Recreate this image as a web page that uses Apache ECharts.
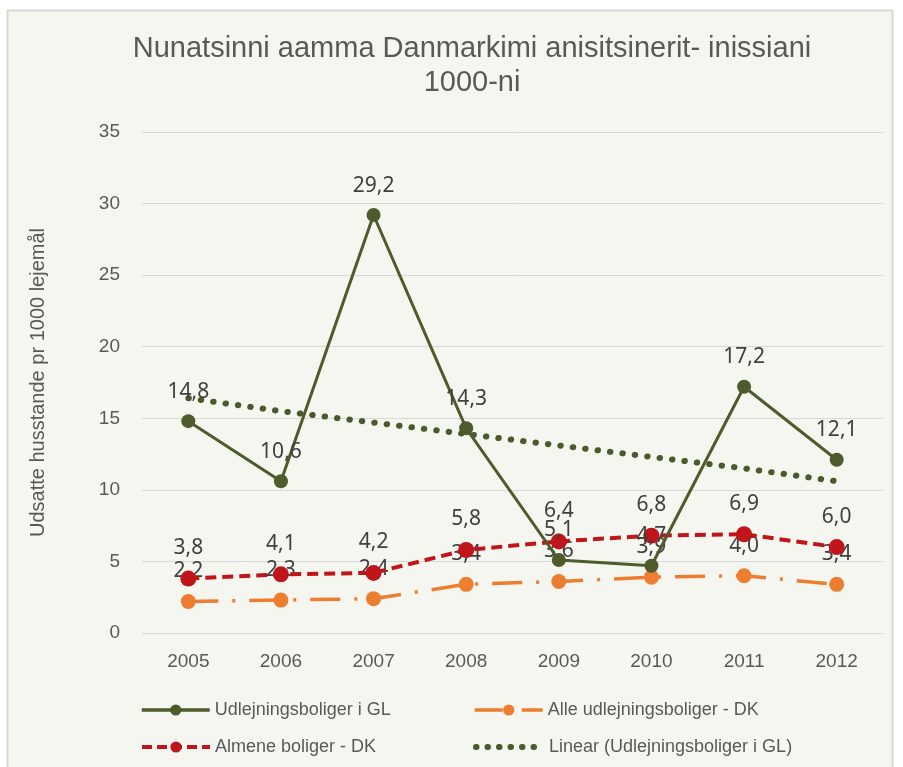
<!DOCTYPE html>
<html>
<head>
<meta charset="utf-8">
<script src="https://cdn.jsdelivr.net/npm/echarts@6/dist/echarts.min.js"></script>
<style>
  html, body { margin: 0; padding: 0; background: #fff; }
  #main { width: 903px; height: 767px; }
</style>
</head>
<body>
<div id="main"></div>
<script>
// data
var years = ['2005', '2006', '2007', '2008', '2009', '2010', '2011', '2012'];
var glValues = [14.8, 10.6, 29.2, 14.3, 5.1, 4.7, 17.2, 12.1];
var dkAllValues = [2.2, 2.3, 2.4, 3.4, 3.6, 3.9, 4.0, 3.4];
var dkAlmeneValues = [3.8, 4.1, 4.2, 5.8, 6.4, 6.8, 6.9, 6.0];
var trendValues = [16.4, 15.5, 14.7, 13.9, 13.1, 12.3, 11.5, 10.6];

var names = ['Udlejningsboliger i GL', 'Alle udlejningsboliger - DK', 'Almene boliger - DK', 'Linear (Udlejningsboliger i GL)'];

var font = '"Liberation Sans", Arial, sans-serif';
var textGrey = '#595959';

var chart = echarts.init(document.getElementById('main'));

// etiketter med komma som decimaltegn
function commaLabel(p) {
  return p.value.toFixed(1).replace('.', ',');
}
var labelStyle = {
  show: true,
  position: 'top',
  distance: 12,
  color: '#404040',
  fontSize: 21,
  fontFamily: '"Noto Sans", sans-serif',
  formatter: commaLabel
};

function legendAt(item, left, top, lineStyle) {
  return {
    data: [item],
    left: left,
    top: top,
    itemWidth: 68,
    itemHeight: 14,
    itemGap: 0,
    lineStyle: lineStyle,
    textStyle: { color: textGrey, fontSize: 18, fontFamily: font }
  };
}

var option = {
  backgroundColor: 'transparent',
  graphic: [{
    type: 'rect',
    shape: { x: 7.5, y: 10.5, width: 885, height: 770 },
    style: { fill: '#f4f6ef', stroke: '#d9d9d9', lineWidth: 2 },
    z: -10
  }],
  title: {
    text: 'Nunatsinni aamma Danmarkimi anisitsinerit- inissiani\n1000-ni',
    left: 467,
    top: 27,
    textAlign: 'center',
    textStyle: {
      color: textGrey,
      fontSize: 29,
      fontWeight: 'normal',
      fontFamily: font,
      lineHeight: 34
    }
  },
  legend: [
    legendAt(names[0], 135, 696, { width: 3.5 }),
    legendAt(names[1], 468, 696, { width: 3.5, type: [28, 8, 3, 8] }),
    legendAt(names[2], 135, 733, { width: 4, type: [10, 5] }),
    legendAt({ name: names[3], itemStyle: { opacity: 0 } }, 468, 733,
      { type: [0.5, 11], width: 6, cap: 'round' })
  ],
  grid: { left: 142, right: 20, top: 132, bottom: 134 },
  xAxis: {
    type: 'category',
    data: years,
    boundaryGap: true,
    axisLine: { show: false },
    axisTick: { show: false },
    axisLabel: { color: textGrey, fontSize: 19, fontFamily: font, margin: 19 }
  },
  yAxis: {
    type: 'value',
    min: 0,
    max: 35,
    interval: 5,
    name: 'Udsatte husstande pr 1000 lejemål',
    nameLocation: 'middle',
    nameGap: 94,
    nameTextStyle: { color: textGrey, fontSize: 20, fontFamily: font },
    axisLine: { show: false },
    axisTick: { show: false },
    axisLabel: { color: textGrey, fontSize: 19, fontFamily: font, margin: 22 },
    splitLine: { lineStyle: { color: '#d9d9d9', width: 1 } }
  },
  series: [
    {
      name: names[3],
      type: 'line',
      data: trendValues,
      symbol: 'none',
      color: '#4a5a2a',
      lineStyle: { color: '#4a5a2a', width: 6, type: [0.5, 12], cap: 'round' },
      z: 1
    },
    {
      name: names[1],
      type: 'line',
      data: dkAllValues,
      symbol: 'circle',
      symbolSize: 15,
      color: '#ed7d31',
      lineStyle: { color: '#ed7d31', width: 3.5, type: [30, 14, 3, 14] },
      label: labelStyle,
      z: 2
    },
    {
      name: names[2],
      type: 'line',
      data: dkAlmeneValues,
      symbol: 'circle',
      symbolSize: 16,
      color: '#c0161b',
      lineStyle: { color: '#c0161b', width: 4, type: [11, 6] },
      label: labelStyle,
      z: 3
    },
    {
      name: names[0],
      type: 'line',
      data: glValues,
      symbol: 'circle',
      symbolSize: 14,
      color: '#4e5b2c',
      lineStyle: { color: '#4e5b2c', width: 3 },
      label: labelStyle,
      z: 4
    }
  ]
};

chart.setOption(option);
window.addEventListener('resize', function () { chart.resize(); });
</script>
</body>
</html>
